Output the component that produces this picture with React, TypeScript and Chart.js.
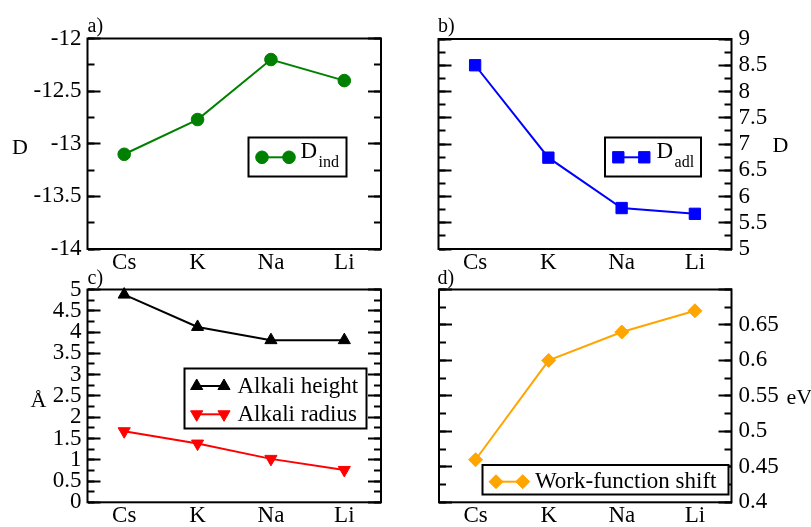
import React, { useEffect, useRef } from 'react';
import { Chart, registerables } from 'chart.js';

Chart.register(...registerables);

// ---------- data ----------
const categories = ['Cs', 'K', 'Na', 'Li'];
const dInd = [-13.1, -12.77, -12.2, -12.4];
const dAdl = [8.5, 6.74, 5.78, 5.67];
const alkaliHeight = [4.88, 4.12, 3.81, 3.81];
const alkaliRadius = [1.67, 1.38, 1.02, 0.76];
const workFunctionShift = [0.46, 0.6, 0.64, 0.67];

// axis ranges: [min, max, major step, minor step]
const rangeA = [-14, -12, 0.5, 0.25];
const rangeB = [5, 9, 0.5, 0.25];
const rangeC = [0, 5, 0.5, 0.25];
const rangeD = [0.4, 0.7, 0.05, 0.025];

const W = 811;
const H = 527;
const FONT = "'Liberation Serif', 'Times New Roman', serif";

Chart.defaults.font.family = FONT;

type Shape = 'circle' | 'square' | 'triUp' | 'triDown' | 'diamond';

interface SeriesSpec {
  data: number[];
  color: string;
  shape: Shape;
  label: string;
  sub?: string;
}

interface LegendSpec {
  x: number; y: number; w: number; h: number;
  rows: number[]; x1: number; x2: number; textX: number;
}

interface PanelSpec {
  area: { left: number; top: number; right: number; bottom: number };
  side: 'left' | 'right';
  range: number[];
  hideAbove?: number;
  series: SeriesSpec[];
  legend: LegendSpec;
  title: { text: string; x: number; y: number };
  tag: { text: string; x: number; y: number };
}

const shapeStyle: Record<Shape, { style: string; rot: number; r: number }> = {
  circle: { style: 'circle', rot: 0, r: 6.3 },
  square: { style: 'rect', rot: 0, r: 8 },
  triUp: { style: 'triangle', rot: 0, r: 7 },
  triDown: { style: 'triangle', rot: 180, r: 7 },
  diamond: { style: 'rectRot', rot: 0, r: 7 },
};

function drawMarker(ctx: CanvasRenderingContext2D, shape: Shape, x: number, y: number, color: string) {
  const r = shapeStyle[shape].r;
  ctx.save();
  ctx.fillStyle = color;
  ctx.strokeStyle = color;
  ctx.lineWidth = 1;
  ctx.beginPath();
  if (shape === 'circle') {
    ctx.arc(x, y, r, 0, Math.PI * 2);
  } else if (shape === 'square') {
    const s = r * Math.SQRT1_2;
    ctx.rect(x - s, y - s, 2 * s, 2 * s);
  } else if (shape === 'triUp' || shape === 'triDown') {
    const base = shape === 'triUp' ? 0 : Math.PI;
    for (let i = 0; i < 3; i++) {
      const a = base + (i * 2 * Math.PI) / 3;
      const px = x + Math.sin(a) * r;
      const py = y - Math.cos(a) * r;
      if (i === 0) ctx.moveTo(px, py); else ctx.lineTo(px, py);
    }
    ctx.closePath();
  } else {
    ctx.moveTo(x, y - r);
    ctx.lineTo(x + r, y);
    ctx.lineTo(x, y + r);
    ctx.lineTo(x - r, y);
    ctx.closePath();
  }
  ctx.fill();
  ctx.stroke();
  ctx.restore();
}

const panels: PanelSpec[] = [
  {
    area: { left: 87.5, top: 38.5, right: 381, bottom: 249 },
    side: 'left',
    range: rangeA,
    series: [{ data: dInd, color: '#008000', shape: 'circle', label: 'D', sub: 'ind' }],
    legend: { x: 248.5, y: 137.5, w: 98, h: 39, rows: [157.3], x1: 262, x2: 289, textX: 300.5 },
    title: { text: 'D', x: 12, y: 153.5 },
    tag: { text: 'a)', x: 87.5, y: 32 },
  },
  {
    area: { left: 438.5, top: 39, right: 731.5, bottom: 249 },
    side: 'right',
    range: rangeB,
    series: [{ data: dAdl, color: '#0000ff', shape: 'square', label: 'D', sub: 'adl' }],
    legend: { x: 605, y: 137.5, w: 96, h: 39, rows: [157.3], x1: 618.3, x2: 644.3, textX: 656.5 },
    title: { text: 'D', x: 772.5, y: 151.5 },
    tag: { text: 'b)', x: 438, y: 31.5 },
  },
  {
    area: { left: 87.5, top: 289.5, right: 381, bottom: 502.3 },
    side: 'left',
    range: rangeC,
    series: [
      { data: alkaliHeight, color: '#000000', shape: 'triUp', label: 'Alkali height' },
      { data: alkaliRadius, color: '#ff0000', shape: 'triDown', label: 'Alkali radius' },
    ],
    legend: { x: 184.5, y: 368.5, w: 182, h: 60, rows: [386, 414.3], x1: 196.7, x2: 224, textX: 237.5 },
    title: { text: 'Å', x: 30.5, y: 407 },
    tag: { text: 'c)', x: 87.5, y: 283.5 },
  },
  {
    area: { left: 439, top: 289.5, right: 731.5, bottom: 502.3 },
    side: 'right',
    range: rangeD,
    hideAbove: 0.69,
    series: [{ data: workFunctionShift, color: '#ffa500', shape: 'diamond', label: 'Work-function shift' }],
    legend: { x: 482.5, y: 465, w: 246, h: 29.5, rows: [481.7], x1: 496, x2: 522.7, textX: 535 },
    title: { text: 'eV', x: 786.5, y: 403.5 },
    tag: { text: 'd)', x: 437.5, y: 283.5 },
  },
];

function buildChart(canvas: HTMLCanvasElement, p: PanelSpec) {
  const [min, max, major, minor] = p.range;
  const tickFont = { family: FONT, size: 23 };
  const fmt = (v: number | string) => {
    const n = Number(v);
    if (p.hideAbove !== undefined && n > p.hideAbove) return '';
    return String(Math.round(n * 1000) / 1000);
  };
  const sideWidth = p.side === 'left' ? p.area.left : W - p.area.right;
  const yAxis = (position: 'left' | 'right', len: number, step: number, labels: boolean) => ({
    type: 'linear',
    position,
    min,
    max,
    weight: labels ? 5 : 0,
    afterFit: (s: any) => {
      s.width = labels ? sideWidth : 0;
      s.paddingTop = 0;
      s.paddingBottom = 0;
    },
    border: { display: false },
    grid: { display: true, drawOnChartArea: false, drawTicks: true, tickLength: -len, tickWidth: 2, tickColor: '#000' },
    ticks: {
      stepSize: step,
      autoSkip: false,
      maxTicksLimit: 1000,
      display: labels,
      padding: position === 'left' ? 19 : 20,
      color: '#000',
      font: tickFont,
      callback: fmt,
    },
  });
  const other = p.side === 'left' ? 'right' : 'left';

  const decor = {
    id: 'decor',
    beforeDatasetsDraw(chart: any) {
      const ctx: CanvasRenderingContext2D = chart.ctx;
      const a = chart.chartArea;
      ctx.save();
      ctx.strokeStyle = '#000';
      ctx.lineWidth = 2;
      ctx.strokeRect(a.left, a.top, a.right - a.left, a.bottom - a.top);
      ctx.restore();
    },
    afterDatasetsDraw(chart: any) {
      const ctx: CanvasRenderingContext2D = chart.ctx;
      const L = p.legend;
      ctx.save();
      ctx.fillStyle = '#fff';
      ctx.fillRect(L.x, L.y, L.w, L.h);
      ctx.strokeStyle = '#000';
      ctx.lineWidth = 2;
      ctx.strokeRect(L.x, L.y, L.w, L.h);
      p.series.forEach((s, i) => {
        const ry = L.rows[i];
        ctx.strokeStyle = s.color;
        ctx.lineWidth = 2;
        ctx.beginPath();
        ctx.moveTo(L.x1, ry);
        ctx.lineTo(L.x2, ry);
        ctx.stroke();
        drawMarker(ctx, s.shape, L.x1, ry, s.color);
        drawMarker(ctx, s.shape, L.x2, ry, s.color);
        ctx.fillStyle = '#000';
        ctx.textAlign = 'left';
        ctx.textBaseline = 'alphabetic';
        if (s.sub) {
          ctx.font = `23px ${FONT}`;
          ctx.fillText(s.label, L.textX, ry + 1);
          const w = ctx.measureText(s.label).width;
          ctx.font = `16px ${FONT}`;
          ctx.fillText(s.sub, L.textX + w + 1.5, ry + 10);
        } else {
          ctx.font = `23px ${FONT}`;
          ctx.fillText(s.label, L.textX, ry + 6.5);
        }
      });
      ctx.fillStyle = '#000';
      ctx.textAlign = 'left';
      ctx.textBaseline = 'alphabetic';
      ctx.font = `22px ${FONT}`;
      ctx.fillText(p.title.text, p.title.x, p.title.y);
      ctx.font = `20px ${FONT}`;
      ctx.fillText(p.tag.text, p.tag.x, p.tag.y);
      ctx.restore();
    },
  };

  return new Chart(canvas, {
    type: 'line',
    data: {
      labels: categories,
      datasets: p.series.map((s) => ({
        label: s.label + (s.sub ?? ''),
        data: s.data,
        borderColor: s.color,
        backgroundColor: s.color,
        borderWidth: 2,
        pointStyle: shapeStyle[s.shape].style as any,
        pointRotation: shapeStyle[s.shape].rot,
        pointRadius: shapeStyle[s.shape].r,
        pointBorderWidth: 1,
        pointBackgroundColor: s.color,
        pointBorderColor: s.color,
        tension: 0,
        clip: false as any,
        xAxisID: 'x',
        yAxisID: 'y',
      })),
    },
    options: {
      animation: false,
      responsive: false,
      devicePixelRatio: 1,
      events: [],
      font: { family: FONT },
      layout: {
        padding: {
          left: p.side === 'left' ? 0 : p.area.left,
          top: p.area.top,
          right: p.side === 'right' ? 0 : W - p.area.right,
          bottom: 0,
        },
      },
      plugins: { legend: { display: false }, tooltip: { enabled: false } },
      scales: {
        x: {
          type: 'category',
          position: 'bottom',
          offset: true,
          afterFit: (s: any) => {
            s.height = H - p.area.bottom;
            s.paddingLeft = 0;
            s.paddingRight = 0;
          },
          border: { display: false },
          grid: { display: false, drawTicks: false },
          ticks: { color: '#000', font: tickFont, padding: 0, autoSkip: false, maxRotation: 0 },
        },
        y: yAxis(p.side, 13, major, true),
        yMinor: yAxis(p.side, 7, minor, false),
        yOpp: yAxis(other, 13, major, false),
        yOppMinor: yAxis(other, 7, minor, false),
      } as any,
    },
    plugins: [decor],
  } as any);
}

function Panel({ spec }: { spec: PanelSpec }) {
  const ref = useRef<HTMLCanvasElement>(null);
  useEffect(() => {
    const chart = buildChart(ref.current as HTMLCanvasElement, spec);
    return () => chart.destroy();
  }, [spec]);
  return (
    <canvas
      ref={ref}
      width={W}
      height={H}
      style={{ position: 'absolute', left: 0, top: 0, width: W, height: H }}
    />
  );
}

export default function App() {
  return (
    <div style={{ position: 'absolute', left: 0, top: 0, width: W, height: H, background: '#fff', overflow: 'hidden' }}>
      {panels.map((p, i) => (
        <Panel key={i} spec={p} />
      ))}
    </div>
  );
}
